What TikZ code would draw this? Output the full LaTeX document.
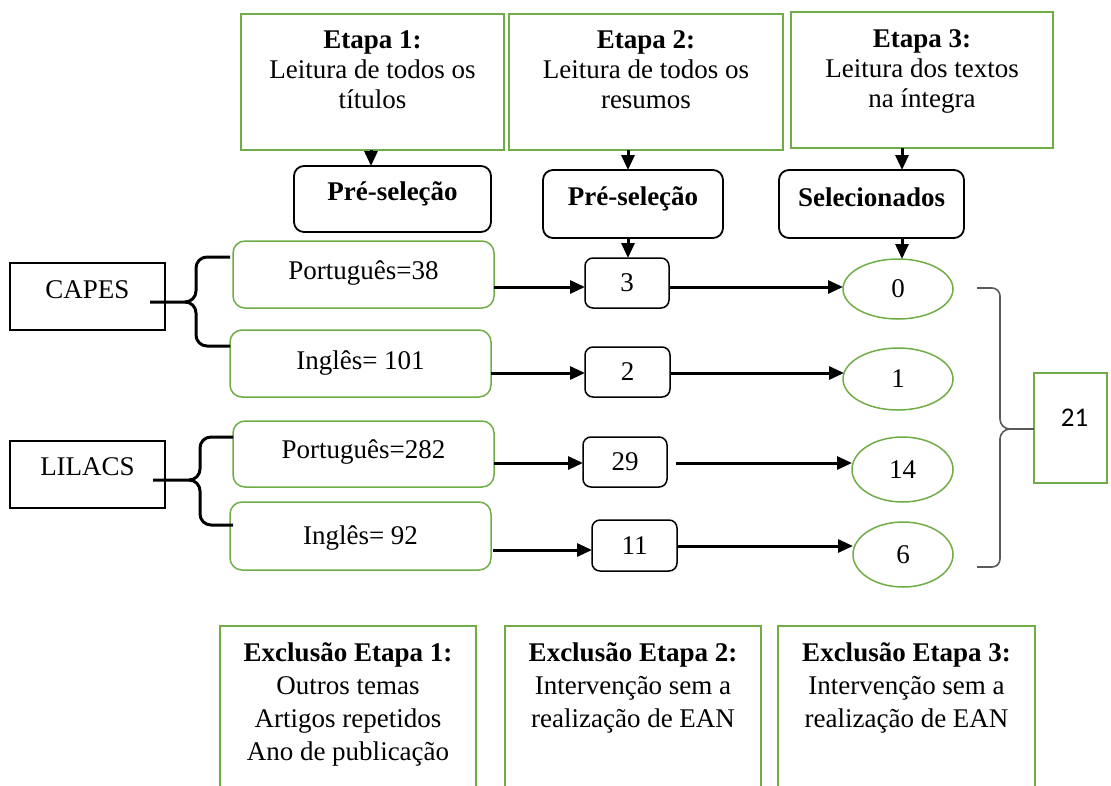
\documentclass[tikz,border=0pt]{standalone}
\usepackage{fontspec}
\setmainfont{Liberation Serif}
\newfontfamily\calib{Carlito}
\usetikzlibrary{arrows.meta,shapes.geometric}
\definecolor{gr}{HTML}{70AD47}
\definecolor{gy}{HTML}{5A5A5A}
\begin{document}
\begin{tikzpicture}[x=1pt,y=-1pt,
  every node/.style={inner sep=0pt,outer sep=0pt,font=\fontsize{27}{30}\selectfont},
  gbox/.style={draw=gr,line width=1.5pt,rectangle},
  grbox/.style={draw=gr,line width=1.5pt,rectangle,rounded corners=12pt},
  kbox/.style={draw=black,line width=1.8pt,rectangle,rounded corners=10pt},
  sbox/.style={draw=black,line width=1.5pt,rectangle},
  gell/.style={draw=gr,line width=1.5pt,ellipse},
  lab/.style={anchor=north,align=center,inner sep=0pt,font=\fontsize{27}{30}\selectfont},
  labx/.style={anchor=north,align=center,inner sep=0pt,font=\fontsize{27}{33}\selectfont},
  arr/.style={line width=3pt,-{Triangle[length=15pt,width=13pt]}},
  brc/.style={line width=3pt,line join=round},
  rbrc/.style={draw=gy,line width=1.6pt,line join=round}]
\useasboundingbox (0,0) rectangle (1111,785);
\clip (0,0) rectangle (1111,785);

% Top stage boxes
\node[gbox,minimum width=263pt,minimum height=136pt,
  label={[lab,yshift=-17pt]north:{\textbf{Etapa 1:}\\Leitura de todos os\\títulos}}] (E1) at (372.5,82) {};
\node[gbox,minimum width=274pt,minimum height=136pt,
  label={[lab,yshift=-17pt]north:{\textbf{Etapa 2:}\\Leitura de todos os\\resumos}}] (E2) at (646,82) {};
\node[gbox,minimum width=262pt,minimum height=136pt,
  label={[lab,yshift=-18pt]north:{\textbf{Etapa 3:}\\Leitura dos textos\\na íntegra}}] (E3) at (922,80) {};

% Selection boxes
\node[kbox,minimum width=197pt,minimum height=66pt,
  label={[lab,yshift=-16pt]north:{\textbf{Pré-seleção}}}] (PS1) at (392.5,199) {};
\node[kbox,minimum width=180pt,minimum height=68pt,
  label={[lab,yshift=-17pt]north:{\textbf{Pré-seleção}}}] (PS2) at (633,204) {};
\node[kbox,minimum width=185pt,minimum height=68pt,
  label={[lab,yshift=-18pt]north:{\textbf{Selecionados}}}] (SEL) at (871.5,204) {};

% Sources
\node[sbox,minimum width=155pt,minimum height=67pt,
  label={[lab,yshift=-18pt]north:{CAPES}}] (CAPES) at (87.5,296.5) {};
\node[sbox,minimum width=155pt,minimum height=67pt,
  label={[lab,yshift=-17pt]north:{LILACS}}] (LIL) at (87.5,474.5) {};

% Language boxes
\node[grbox,minimum width=261pt,minimum height=67pt,
  label={[lab,yshift=-20pt]north:{Português=38}}] (P38) at (363.5,274.5) {};
\node[grbox,minimum width=261pt,minimum height=67pt,
  label={[lab,yshift=-21pt]north:{Inglês= 101}}] (I101) at (360.5,363.5) {};
\node[grbox,minimum width=261pt,minimum height=66pt,
  label={[lab,yshift=-19pt]north:{Português=282}}] (P282) at (363.5,454) {};
\node[grbox,minimum width=261pt,minimum height=68pt,
  label={[lab,yshift=-24pt]north:{Inglês= 92}}] (I92) at (360.5,536) {};

% Pre-selection counts
\node[kbox,rounded corners=8pt,line width=1.5pt,minimum width=84pt,minimum height=50pt] (B3) at (627,283) {3};
\node[kbox,rounded corners=8pt,line width=1.5pt,minimum width=85pt,minimum height=50pt] (B2) at (627.5,372) {2};
\node[kbox,rounded corners=8pt,line width=1.5pt,minimum width=84pt,minimum height=50pt] (B29) at (625,462) {29};
\node[kbox,rounded corners=8pt,line width=1.5pt,minimum width=85pt,minimum height=51pt] (B11) at (634.5,545.5) {11};

% Selected counts
\node[gell,minimum width=110pt,minimum height=60pt] (S0) at (898,289) {0};
\node[gell,minimum width=110pt,minimum height=62pt] (S1) at (898,379) {1};
\node[gell,minimum width=101pt,minimum height=65pt] (S14) at (902.5,469.5) {14};
\node[gell,minimum width=100pt,minimum height=65pt] (S6) at (903,554.5) {6};

% Total
\node[gbox,minimum width=73pt,minimum height=110pt,
  label={[lab,font=\calib\fontsize{27}{30}\selectfont,yshift=-36pt,xshift=4pt]north:{21}}] (T21) at (1070.5,428) {};

% Exclusion boxes (cut by the lower edge)
\node[gbox,anchor=north,minimum width=256pt,minimum height=220pt,
  label={[labx,yshift=-17pt]north:{\textbf{Exclusão Etapa 1:}\\Outros temas\\Artigos repetidos\\Ano de publicação}}] (X1) at (348,626) {};
\node[gbox,anchor=north,minimum width=256pt,minimum height=220pt,
  label={[labx,yshift=-17pt]north:{\textbf{Exclusão Etapa 2:}\\Intervenção sem a\\realização de EAN}}] (X2) at (633,626) {};
\node[gbox,anchor=north,minimum width=257pt,minimum height=220pt,
  label={[labx,yshift=-17pt]north:{\textbf{Exclusão Etapa 3:}\\Intervenção sem a\\realização de EAN}}] (X3) at (906.5,626) {};

% Vertical arrows
\coordinate (c1) at (371,0);
\coordinate (c2) at (628,0);
\coordinate (c3) at (902,0);
\draw[arr] (E1.south -| c1) -- (PS1.north -| c1);
\draw[arr] (E2.south -| c2) -- (PS2.north -| c2);
\draw[arr] (E3.south -| c3) -- (SEL.north -| c3);
\draw[arr] (PS2.south -| c2) -- (B3.north -| c2);
\draw[arr] (SEL.south -| c3) -- (S0.north -| c3);

% Horizontal arrows
\coordinate (r1) at (0,287);
\coordinate (r2) at (0,373);
\coordinate (r3) at (0,463);
\coordinate (r4) at (0,550);
\coordinate (r4b) at (0,546);
\draw[arr] (P38.east |- r1) -- (B3.west |- r1);
\draw[arr] (B3.east |- r1) -- (843,287) coordinate (S0in);
\draw[arr] (I101.east |- r2) -- (B2.west |- r2);
\draw[arr] (B2.east |- r2) -- (844,373) coordinate (S1in);
\draw[arr] (P282.east |- r3) -- (B29.west |- r3);
\draw[arr,shorten <=9pt] (B29.east |- r3) -- (852,463) coordinate (S14in);
\draw[arr] ([xshift=2pt]I92.east |- r4) -- (B11.west |- r4);
\draw[arr] (B11.east |- r4b) -- (853,546) coordinate (S6in);

% Braces on the left
\draw[brc] (230,257) -- (207,257) to[out=180,in=90] (196,268) -- (196,291) to[out=-90,in=0] (185,302) -- (150,302);
\draw[brc] (185,302) to[out=0,in=90] (196,313) -- (196,335) to[out=-90,in=180] (207,346) -- (230,346);
\draw[brc] (233,437) -- (211,437) to[out=180,in=90] (200,448) -- (200,469) to[out=-90,in=0] (189,480) -- (153,480);
\draw[brc] (189,480) to[out=0,in=90] (200,491) -- (200,514) to[out=-90,in=180] (211,525) -- (233,525);

% Brace on the right
\draw[rbrc] (977,288) -- (992,288) to[out=0,in=90] (1000,296) -- (1000,419) to[out=-90,in=180] (1010,429) -- (T21.west |- 0,429);
\draw[rbrc] (1010,429) to[out=180,in=90] (1000,439) -- (1000,559) to[out=-90,in=0] (992,567) -- (977,567);
\end{tikzpicture}
\end{document}
